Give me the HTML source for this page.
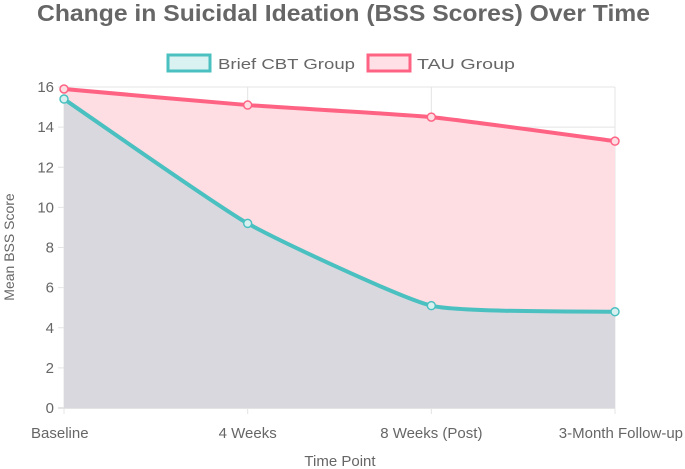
<!DOCTYPE html>
<html><head><meta charset="utf-8"><style>
html,body{margin:0;padding:0;background:#fff;}
svg{display:block;font-family:"Liberation Sans",sans-serif;}
</style></head><body>
<svg id="chart" width="685" height="469">
<text x="37" y="21" font-size="23" font-weight="bold" fill="#666" textLength="613" lengthAdjust="spacingAndGlyphs">Change in Suicidal Ideation (BSS Scores) Over Time</text>
<g>
<g>
<rect x="168" y="55" width="42" height="16" fill="#dbf2f2" stroke="#4bc0c0" stroke-width="3"/>
<text x="218" y="69" font-size="15" fill="#666" textLength="137" lengthAdjust="spacingAndGlyphs">Brief CBT Group</text></g>
<g>
<rect x="368" y="55" width="42" height="16" fill="#ffe0e6" stroke="#ff6384" stroke-width="3"/>
<text x="417" y="69" font-size="15" fill="#666" textLength="98" lengthAdjust="spacingAndGlyphs">TAU Group</text></g>
</g>
<g id="grid"></g><g id="marks"></g><g id="axes"></g>
<text transform="translate(14,247) rotate(-90)" text-anchor="middle" font-size="14" fill="#666">Mean BSS Score</text>
<text x="340" y="466" text-anchor="middle" font-size="15" fill="#666">Time Point</text>
</svg>
<script>
const categories=["Baseline","4 Weeks","8 Weeks (Post)","3-Month Follow-up"];
const cbtValues=[15.4,9.2,5.1,4.8];
const tauValues=[15.9,15.1,14.5,13.3];
const yTicks=[0,2,4,6,8,10,12,14,16];
const NS="http://www.w3.org/2000/svg";
const L=64,R=615,T=87,B=408,yMax=16;
const xs=i=>L+i*(R-L)/(categories.length-1);
const ys=v=>B-v*(B-T)/yMax;
function mk(tag,attrs,parent){const e=document.createElementNS(NS,tag);for(const k in attrs)e.setAttribute(k,attrs[k]);parent.appendChild(e);return e;}
const grid=document.getElementById('grid'),marks=document.getElementById('marks'),axes=document.getElementById('axes');
yTicks.forEach(t=>{
 const l=mk('line',{x1:L-6,x2:R,y1:ys(t),y2:ys(t),stroke:t===0?'#c8c8c8':'#e4e4e4','stroke-width':1},grid);
 
 
 const tx=mk('text',{x:L-10,y:ys(t)+5,'text-anchor':'end','font-size':15,fill:'#666'},axes);
 tx.textContent=t;
 
 
});
categories.forEach((c,i)=>{
 const l=mk('line',{x1:xs(i),x2:xs(i),y1:T,y2:B+6,stroke:'#e4e4e4','stroke-width':1},grid);
 
 
 const anchor=i===categories.length-1?'end':(i===0?'start':'middle');
 const x=i===categories.length-1?683:(i===0?31:xs(i));
 const tx=mk('text',{x:x,y:438,'text-anchor':anchor,'font-size':15,fill:'#666'},axes);
 tx.textContent=c;
 
 
});
function curve(vals){
 const p=vals.map((v,i)=>[xs(i),ys(v)]);
 let d=`M${p[0][0]},${p[0][1]}`;
 const t=0.08;
 for(let i=0;i<p.length-1;i++){
  const p0=p[Math.max(i-1,0)],p1=p[i],p2=p[i+1],p3=p[Math.min(i+2,p.length-1)];
  const c1=[p1[0]+(p2[0]-p0[0])*t,p1[1]+(p2[1]-p0[1])*t];
  const c2=[p2[0]-(p3[0]-p1[0])*t,p2[1]-(p3[1]-p1[1])*t];
  d+=` C${c1[0]},${c1[1]} ${c2[0]},${c2[1]} ${p2[0]},${p2[1]}`;
 }
 return d;
}
function series(vals,fill,name){
 const d=curve(vals);
 const a=mk('path',{d:d+` L${R},${B} L${L},${B} Z`,fill:fill},marks);
 
 
 return d;
}
const dT=series(tauValues,'#fedde3','tau');
const dC=series(cbtValues,'#d9d8de','cbt');
[[dT,'#ff6384','tau',tauValues,'#fedde3'],[dC,'#4bc0c0','cbt',cbtValues,'#d9f0f0']].forEach(([d,s,n,vals,pf])=>{
 const l=mk('path',{d:d,fill:'none',stroke:s,'stroke-width':4},marks);
 
 
 vals.forEach((v,i)=>{
  const c=mk('circle',{cx:xs(i),cy:ys(v),r:4,fill:pf,stroke:s,'stroke-width':1.5},marks);
  
  
 });
});
</script>
</body></html>
